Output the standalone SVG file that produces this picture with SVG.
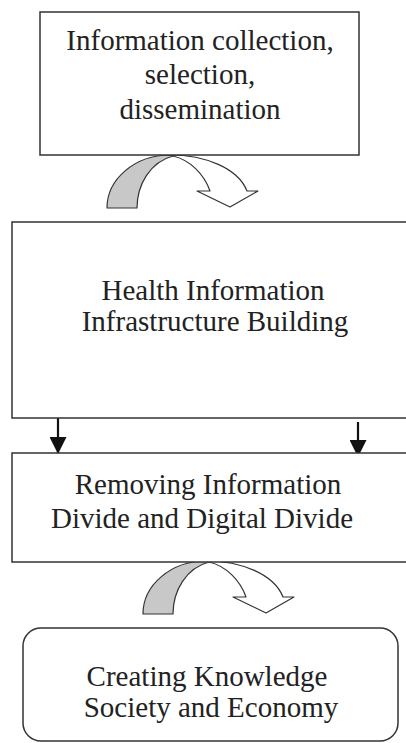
<svg xmlns="http://www.w3.org/2000/svg" width="406" height="743" viewBox="0 0 406 743">
<style>
.box{fill:#fff;stroke:#333;stroke-width:1.5}
.t{font-family:"Liberation Serif","Times New Roman",serif;font-size:29px;fill:#222;text-anchor:middle}
.back{fill:#c8c8c8;stroke:#333;stroke-width:1.2;stroke-linejoin:round}
.front{fill:#fff;stroke:#333;stroke-width:1.2;stroke-linejoin:round}
.down{stroke:#111;stroke-width:2.2;fill:none}
</style>
<defs>
<marker id="ah" viewBox="0 0 16 16" refX="16" refY="8" markerWidth="17" markerHeight="17" markerUnits="userSpaceOnUse" orient="auto">
<path d="M0,0 L16,8 L0,16 Z" fill="#111"/>
</marker>
<g id="curved">
<path class="back" d="M107,208 C107,179 135,155 170,155 L173,156 C150,162 137,185 137,208 Z"/>
<path class="front" d="M170,155 C205,155 238,168 247,191 L258,191 L230,207 L197,191 L210,191 C204,174 190,160 173,156 Z"/>
</g>
</defs>
<rect width="406" height="743" fill="#fff"/>
<g id="connectors">
<use href="#curved"/>
<use href="#curved" transform="translate(36,406)"/>
<line class="down" x1="58" y1="418" x2="58" y2="454" marker-end="url(#ah)"/>
<line class="down" x1="358" y1="422" x2="358" y2="457" marker-end="url(#ah)"/>
</g>
<g id="node1">
<rect class="box" x="40" y="12" width="319" height="143"/>
<text class="t" x="200" y="50">Information collection,</text>
<text class="t" x="200" y="84">selection,</text>
<text class="t" x="200" y="119">dissemination</text>
</g>
<g id="node2">
<rect class="box" x="12" y="222" width="410" height="196"/>
<text class="t" x="213" y="300">Health Information</text>
<text class="t" x="215" y="331">Infrastructure Building</text>
</g>
<g id="node3">
<rect class="box" x="12" y="453" width="410" height="109"/>
<text class="t" x="208" y="494">Removing Information</text>
<text class="t" x="202" y="528">Divide and Digital Divide</text>
</g>
<g id="node4">
<rect class="box" x="23" y="628" width="375" height="113" rx="18"/>
<text class="t" x="207" y="686">Creating Knowledge</text>
<text class="t" x="211" y="717">Society and Economy</text>
</g>
</svg>
